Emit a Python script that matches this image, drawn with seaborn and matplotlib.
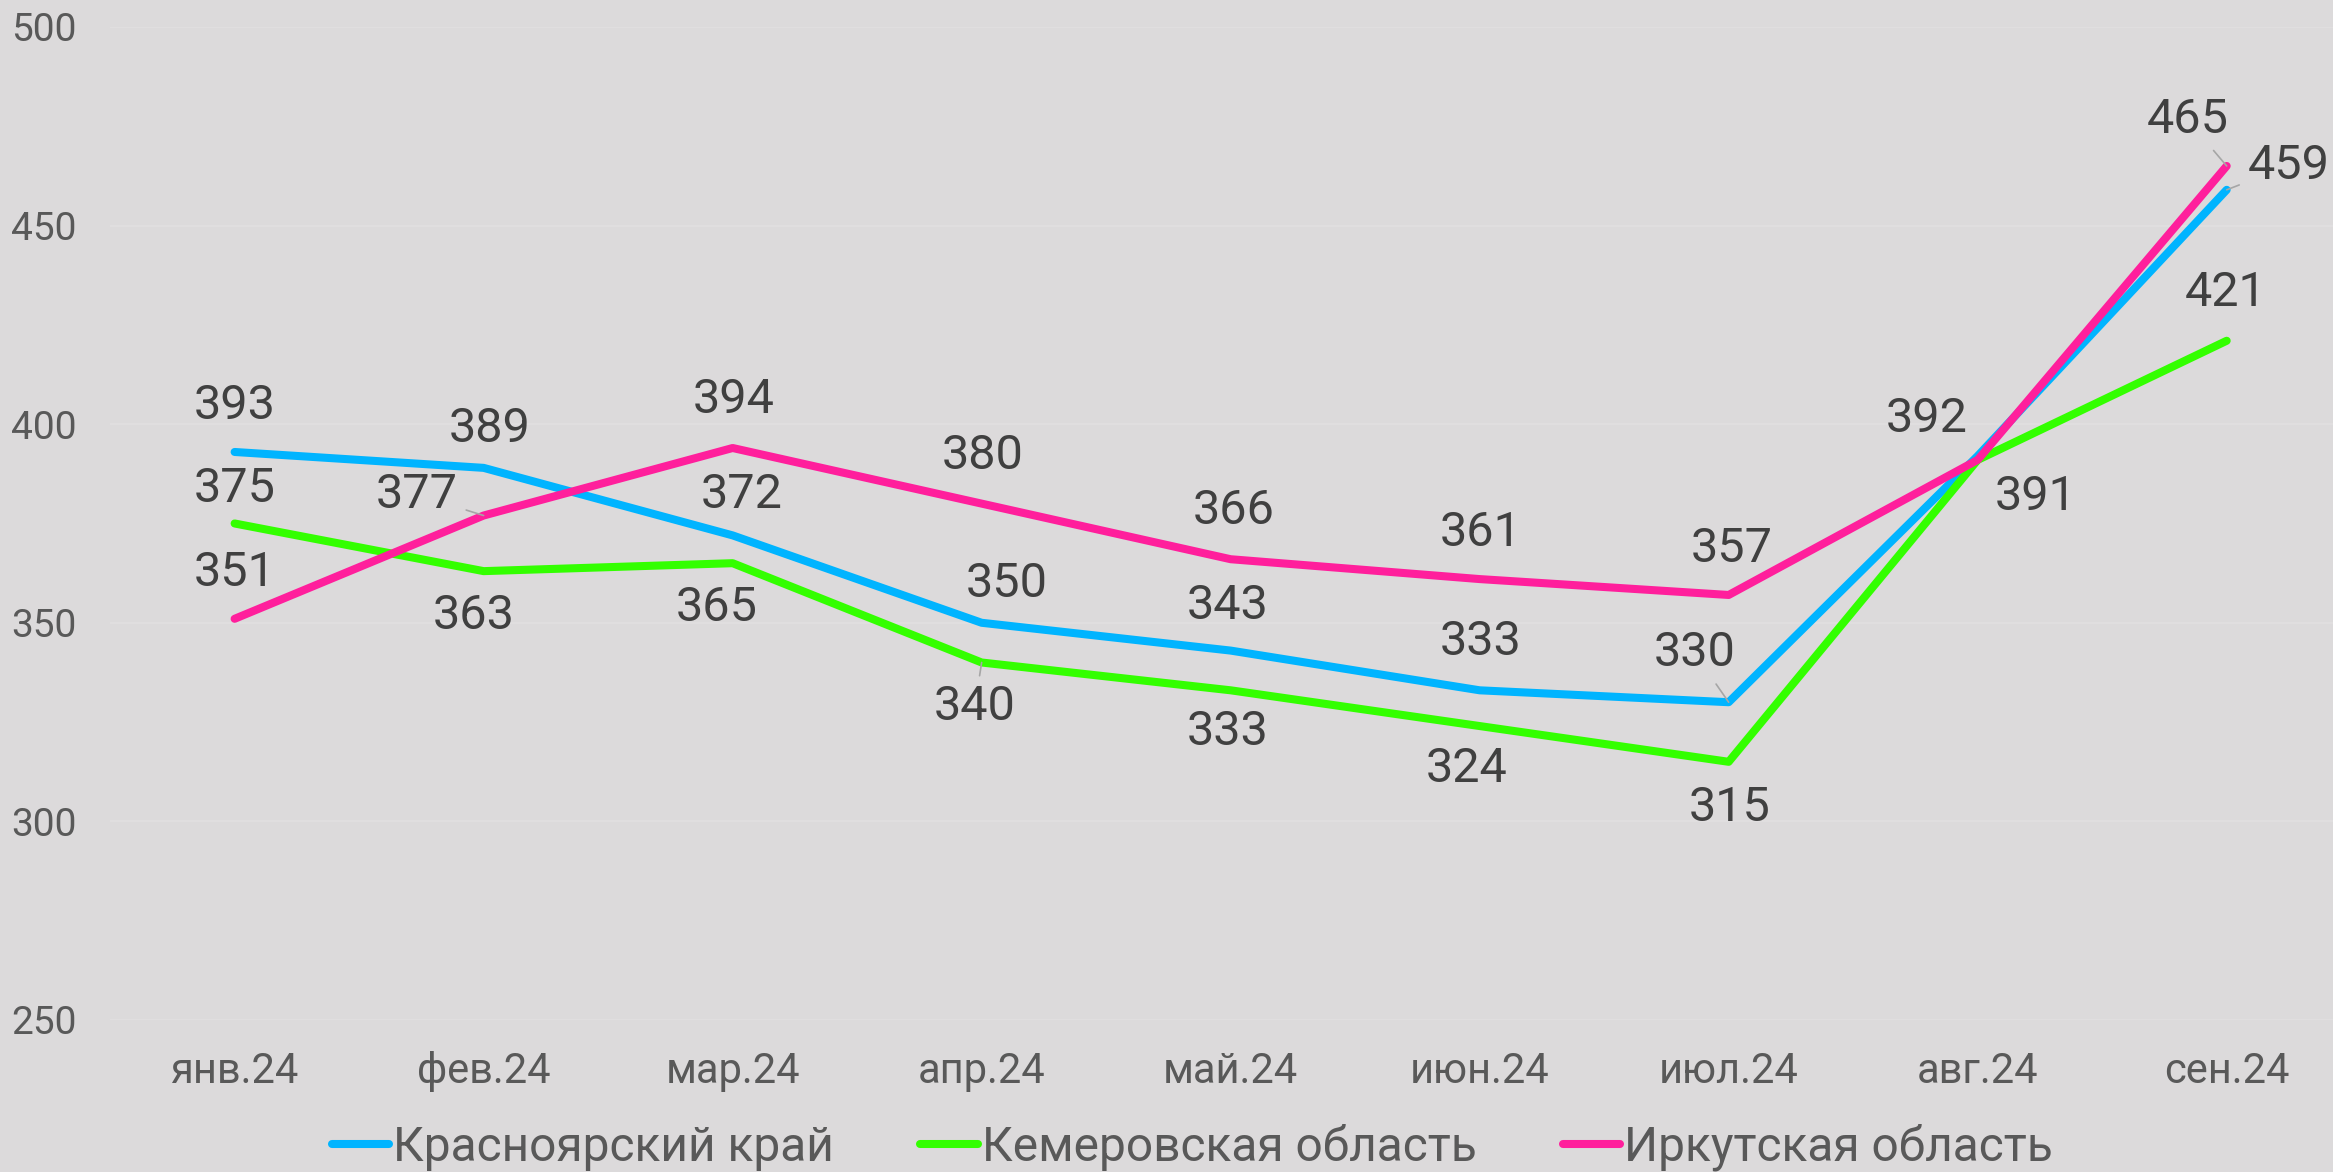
import pandas as pd
import matplotlib.pyplot as plt
import seaborn as sns

# data
months = ["янв.24", "фев.24", "мар.24", "апр.24", "май.24",
          "июн.24", "июл.24", "авг.24", "сен.24"]
krasnoyarsk = [393, 389, 372, 350, 343, 333, 330, 392, 459]
kemerovo    = [375, 363, 365, 340, 333, 324, 315, 391, 421]
irkutsk     = [351, 377, 394, 380, 366, 361, 357, 391, 465]
names = ["Красноярский край", "Кемеровская область", "Иркутская область"]
colors = ["#00B4FF", "#33FF00", "#FF1F9C"]

# label offsets in pixels (dx, dy), None = label hidden
offs = {
    names[0]: [(0, 46), (6, 39), (9, 40), (25, 39), (-3, 45), (1, 48), (-34, 49), (-51, 37), (62, 24)],
    names[1]: [(0, 34), (-10, -45), (-16, -45), (-7, -45), (-3, -42), (-13, -43), (1, -46), (58, -37), (-1, 48)],
    names[2]: [(0, 46), (-67, 21), (1, 48), (1, 48), (3, 48), (1, 46), (3, 46), None, (-39, 46)],
}
leaders = {(names[1], 3), (names[2], 1), (names[0], 6), (names[2], 8), (names[0], 8)}

df = pd.DataFrame({
    "month": months * 3,
    "value": krasnoyarsk + kemerovo + irkutsk,
    "region": [n for n in names for _ in months],
})

sns.set_theme(style="white")
plt.rcParams["font.family"] = ["Roboto", "DejaVu Sans"]
bg = "#DCDADB"

fig = plt.figure(figsize=(23.33, 11.72), dpi=100, facecolor=bg)
ax = fig.add_axes([0.0472, 0.1297, 0.9606, 0.8473], facecolor=bg)

sns.lineplot(data=df, x="month", y="value", hue="region", palette=colors,
             sort=False, linewidth=5.8, solid_capstyle="round", ax=ax)

ax.set_ylim(250, 500)
ax.set_xlim(-0.5, 8.5)
ax.set_yticks(range(250, 501, 50))
ax.grid(axis="y", color="#E0DEDF", linewidth=1.5)
ax.set_axisbelow(True)
for s in ax.spines.values():
    s.set_visible(False)
ax.set_xlabel("")
ax.set_ylabel("")
ax.tick_params(axis="y", length=0, pad=24, labelsize=28, labelcolor="#595959")
ax.tick_params(axis="x", length=0, pad=22, labelsize=30, labelcolor="#595959")

series = {names[0]: krasnoyarsk, names[1]: kemerovo, names[2]: irkutsk}
for name, vals in series.items():
    for i, v in enumerate(vals):
        o = offs[name][i]
        if o is None:
            continue
        arrow = None
        if (name, i) in leaders:
            arrow = dict(arrowstyle="-", color="#A6A6A6", lw=1.2, shrinkA=4, shrinkB=0)
        ax.annotate(str(v), (i, v), xytext=o, textcoords="offset pixels",
                    ha="center", va="center", fontsize=35, color="#404040",
                    arrowprops=arrow)

handles, labels = ax.get_legend_handles_labels()
ax.get_legend().remove()
fig.legend(handles, labels, loc="center", bbox_to_anchor=(0.511, 0.021), ncol=3,
           frameon=False, fontsize=34.5, labelcolor="#595959",
           handlelength=1.2, handletextpad=0.08, columnspacing=1.8)

fig.savefig("out.png", dpi=100, facecolor=bg)
